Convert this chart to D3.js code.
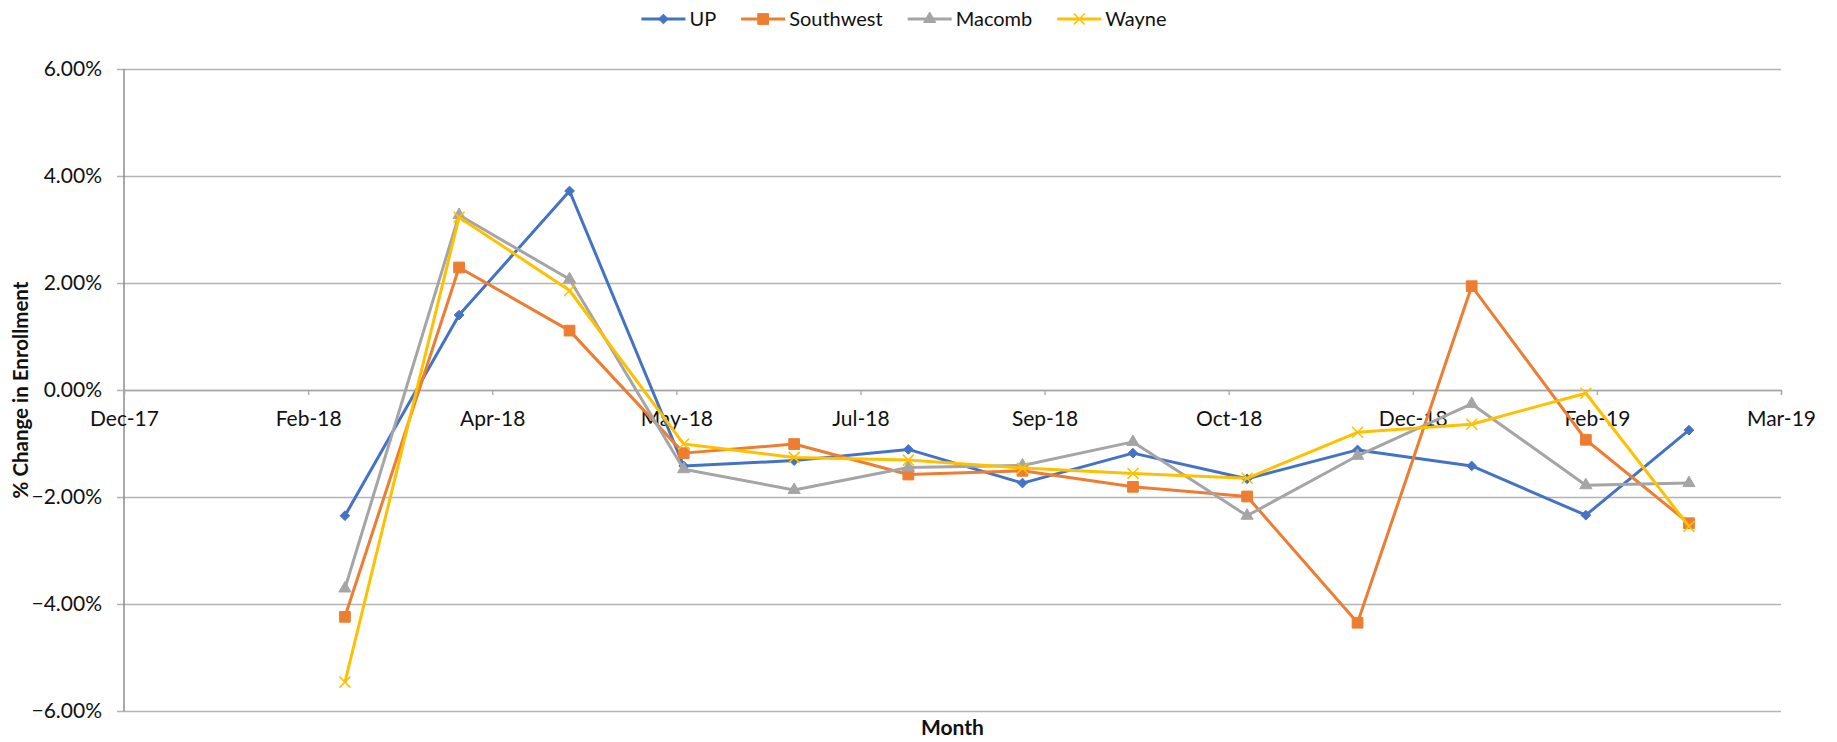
<!DOCTYPE html>
<html>
<head>
<meta charset="utf-8">
<script src="https://cdn.jsdelivr.net/npm/d3@7"></script>
<style>
  body { margin: 0; background: #fff; }
  text { font-family: Lato, "Open Sans", sans-serif; fill: #111; }
</style>
</head>
<body>
<div id="chart"></div>
<script>
// Data: monthly % change in enrollment (first of month)
const months = ["2018-03-01", "2018-04-01", "2018-05-01", "2018-06-01", "2018-07-01", "2018-08-01",
  "2018-09-01", "2018-10-01", "2018-11-01", "2018-12-01", "2019-01-01", "2019-02-01", "2019-03-01"];
const seriesNames = ["UP", "Southwest", "Macomb", "Wayne"];
const upValues = [-2.35, 1.40, 3.72, -1.42, -1.32, -1.11, -1.74, -1.18, -1.66, -1.12, -1.42, -2.34, -0.75];
const southwestValues = [-4.24, 2.29, 1.11, -1.18, -1.01, -1.58, -1.51, -1.81, -1.99, -4.35, 1.94, -0.93, -2.49];
const macombValues = [-3.71, 3.27, 2.07, -1.48, -1.87, -1.45, -1.41, -0.97, -2.35, -1.23, -0.26, -1.78, -1.74];
const wayneValues = [-5.46, 3.23, 1.86, -1.01, -1.26, -1.31, -1.46, -1.56, -1.65, -0.79, -0.64, -0.06, -2.55];
const yTicks = [-6, -4, -2, 0, 2, 4, 6];
const axisStart = "2017-12-31"; // Excel date axis: major unit 50 days
const axisSteps = 9;

const W = 1837, H = 742;
const margin = {top: 69, right: 56, bottom: 31, left: 124};
const innerW = W - margin.left - margin.right;
const innerH = H - margin.top - margin.bottom;

const parse = d3.timeParse("%Y-%m-%d");
const start = parse(axisStart);
const xTickDates = d3.range(axisSteps + 1).map(i => d3.timeDay.offset(start, 50 * i));

const colors = ["#4472C4", "#ED7D31", "#A5A5A5", "#FFC000"];
const valueSets = [upValues, southwestValues, macombValues, wayneValues];
const series = seriesNames.map((name, i) => ({
  name: name,
  color: colors[i],
  values: months.map((m, j) => ({date: parse(m), v: valueSets[i][j]}))
}));

const svg = d3.select("#chart").append("svg")
  .attr("width", W)
  .attr("height", H);

const x = d3.scaleTime()
  .domain([start, xTickDates[axisSteps]])
  .range([0, innerW]);
const y = d3.scaleLinear()
  .domain([-6, 6])
  .range([innerH, 0]);

const g = svg.append("g")
  .attr("transform", `translate(${margin.left},${margin.top})`);

// Horizontal gridlines + y labels
const yAxis = g.append("g")
  .call(d3.axisLeft(y).tickValues(yTicks).tickSize(-innerW).tickPadding(22)
    .tickFormat(d => d3.format(".2f")(d) + "%"))
  .call(g => g.select(".domain").remove());
yAxis.selectAll(".tick line")
  .attr("x1", -7)
  .attr("stroke", "#b4b4b4")
  .attr("stroke-width", 1.3);
yAxis.selectAll(".tick text")
  .attr("font-size", 21)
  .attr("fill", "#111");

// Vertical axis line
g.append("line")
  .attr("x1", 0).attr("x2", 0)
  .attr("y1", 0).attr("y2", innerH)
  .attr("stroke", "#8c8c8c")
  .attr("stroke-width", 1.5);

// X axis crossing at 0
const xAxis = g.append("g")
  .attr("transform", `translate(0,${y(0)})`)
  .call(d3.axisBottom(x).tickValues(xTickDates).tickSize(5).tickPadding(16)
    .tickFormat(d3.timeFormat("%b-%y")));
xAxis.select(".domain").attr("stroke", "#a6a6a6").attr("stroke-width", 1.3);
xAxis.selectAll(".tick line").attr("stroke", "#a6a6a6").attr("stroke-width", 1.3);
xAxis.selectAll(".tick text")
  .attr("font-size", 21)
  .attr("fill", "#111");

// Markers
const markerShape = {
  "UP": d3.symbol().type(d3.symbolDiamond2).size(60)(),
  "Southwest": d3.symbol().type(d3.symbolSquare).size(115)(),
  "Macomb": d3.symbol().type(d3.symbolTriangle).size(64)(),
  "Wayne": d3.symbol().type(d3.symbolTimes).size(80)()
};

const line = d3.line()
  .x(d => x(d.date))
  .y(d => y(d.v));

const gSeries = g.selectAll(".series")
  .data(series)
  .join("g")
    .attr("class", "series");

gSeries.append("path")
  .attr("fill", "none")
  .attr("stroke", d => d.color)
  .attr("stroke-width", 3)
  .attr("stroke-linejoin", "round")
  .attr("d", d => line(d.values));

gSeries.each(function(s) {
  d3.select(this).selectAll(".point")
    .data(s.values)
    .join("path")
      .attr("class", "point")
      .attr("transform", d => `translate(${x(d.date)},${y(d.v)})`)
      .attr("d", markerShape[s.name])
      .attr("fill", s.name === "Wayne" ? "none" : s.color)
      .attr("stroke", s.color)
      .attr("stroke-width", s.name === "Wayne" ? 1.6 : 1);
});

// Axis titles
svg.append("text")
  .attr("x", margin.left + innerW / 2)
  .attr("y", 735)
  .attr("text-anchor", "middle")
  .attr("font-size", 21)
  .attr("font-weight", "bold")
  .text("Month");

svg.append("text")
  .attr("transform", `translate(28,${margin.top + innerH / 2}) rotate(-90)`)
  .attr("text-anchor", "middle")
  .attr("font-size", 20.5)
  .attr("font-weight", "bold")
  .text("% Change in Enrollment");

// Legend
const legend = svg.append("g").attr("transform", "translate(0,19)");
const items = legend.selectAll(".item")
  .data(series)
  .join("g")
    .attr("class", "item");
items.append("line")
  .attr("x1", 0).attr("x2", 44)
  .attr("stroke", d => d.color)
  .attr("stroke-width", 3);
items.append("path")
  .attr("transform", "translate(22,0)")
  .attr("d", d => markerShape[d.name])
  .attr("fill", d => d.name === "Wayne" ? "none" : d.color)
  .attr("stroke", d => d.color)
  .attr("stroke-width", d => d.name === "Wayne" ? 1.6 : 1);
items.append("text")
  .attr("x", 48)
  .attr("dy", "0.35em")
  .attr("font-size", 20)
  .text(d => d.name);

let offset = 0;
const widths = [];
items.each(function() {
  const w = 48 + d3.select(this).select("text").node().getComputedTextLength();
  widths.push(w);
});
const gap = 25;
const total = d3.sum(widths) + gap * (widths.length - 1);
offset = 904 - total / 2;
items.attr("transform", (d, i) => {
  const t = `translate(${offset},0)`;
  offset += widths[i] + gap;
  return t;
});
</script>
</body>
</html>
